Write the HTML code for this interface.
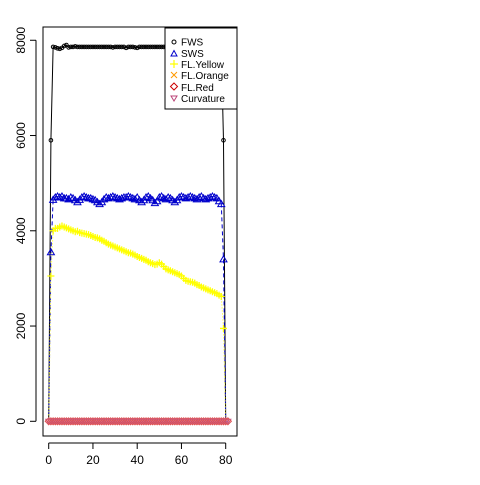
<!DOCTYPE html>
<html><head><meta charset="utf-8"><style>
body{margin:0;background:#fff}
svg text{font-family:"Liberation Sans",Arial,sans-serif}
</style></head><body>
<svg id="chart" width="480" height="480" xmlns="http://www.w3.org/2000/svg">
<rect width="480" height="480" fill="#fff"/>
<g id="marks"></g>
<rect x="43" y="27" width="194" height="409" fill="none" stroke="#000" stroke-width="1"/>
<g id="axes"></g>
<g>
<rect x="165" y="28" width="72" height="81" fill="#fff" stroke="#000"/>
<circle cx="174" cy="42" r="2" fill="none" stroke="#000"/>
<text x="181" y="45.5" font-size="10">FWS</text>
<path d="M171,56 L174,50.5 L177,56 Z" fill="none" stroke="#00c"/>
<text x="181" y="57" font-size="10">SWS</text>
<path d="M170,64 H178 M174,60 V68" stroke="#ff0" stroke-width="1.2"/>
<text x="181" y="68" font-size="10">FL.Yellow</text>
<path d="M171,72 L177,78 M177,72 L171,78" stroke="#f90"/>
<text x="181" y="79" font-size="10">FL.Orange</text>
<path d="M174,83 L177.5,86.5 L174,90 L170.5,86.5 Z" fill="none" stroke="#c00"/>
<text x="181" y="91" font-size="10">FL.Red</text>
<path d="M171,96 L177,96 L174,101 Z" fill="none" stroke="#b47"/>
<text x="181" y="102" font-size="10">Curvature</text>
</g>
</svg>
<script>
const xs = [];
for (let i = 0; i <= 81; i++) xs.push(i);
const fws = [0,5900,7860,7850,7830,7820,7840,7880,7900,7850,7860,7860,7870,7860,7860,7860,7860,7860,7860,7860,7860,7860,7860,7860,7860,7860,7860,7860,7860,7850,7860,7860,7860,7860,7860,7840,7860,7860,7860,7850,7840,7860,7860,7860,7860,7860,7860,7860,7860,7860,7860,7860,7860,7860,7860,7860,7860,7860,7860,7860,7860,7860,7860,7860,7860,7860,7860,7860,7860,7860,7860,7860,7860,7860,7860,7860,7860,7860,7860,5900,0,0];
const sws = [0,3550,4650,4700,4720,4700,4720,4680,4680,4660,4700,4680,4640,4600,4650,4700,4720,4700,4680,4680,4660,4640,4600,4560,4600,4660,4700,4680,4700,4720,4700,4680,4660,4680,4700,4700,4720,4700,4680,4660,4700,4640,4600,4640,4700,4720,4680,4640,4580,4620,4700,4720,4680,4660,4700,4680,4640,4600,4640,4700,4720,4700,4680,4700,4720,4700,4680,4660,4700,4720,4680,4660,4680,4700,4720,4700,4680,4620,4560,3400,0,0];
const yellow = [0,3050,4000,4050,4050,4080,4100,4080,4060,4040,4020,4000,3980,3990,3960,3950,3940,3930,3920,3900,3880,3860,3850,3830,3800,3780,3750,3720,3700,3680,3660,3640,3620,3600,3580,3560,3540,3530,3510,3490,3460,3440,3420,3400,3380,3350,3330,3310,3290,3300,3330,3300,3250,3200,3180,3160,3140,3120,3100,3080,3050,3000,2960,2940,2930,2920,2900,2870,2850,2820,2800,2780,2760,2740,2720,2700,2680,2650,2620,1950,0,0];
const zeros = xs.map(() => 0);
const yTicks = [0,2000,4000,6000,8000];
const xTicks = [0,20,40,60,80];
const X = v => 48.7 + v * 2.2125;
const Y = v => 421.3 - v * 0.04763;
const NS = "http://www.w3.org/2000/svg";
const marks = document.getElementById('marks');
const axes = document.getElementById('axes');
function mk(tag, attrs, parent) { const e = document.createElementNS(NS, tag); for (const k in attrs) e.setAttribute(k, attrs[k]); parent.appendChild(e); return e; }
function line(vals, color, dash, name) {
  const p = mk('polyline', {points: xs.map((x,i)=>X(x)+','+Y(vals[i])).join(' '), fill:'none', stroke:color, 'stroke-width':1, 'stroke-dasharray':dash}, marks);
  
  
}
line(fws, '#000', 'none', 'fws-line');
line(sws, '#00c', '4,3', 'sws-line');
line(yellow, '#ff0', '1,2', 'fl-yellow-line');
xs.forEach((x, i) => {
  if (fws[i] === 0) return;
  const p = mk('circle', {cx:X(x), cy:Y(fws[i]), r:1.8, fill:'none', stroke:'#000'}, marks);
  
  
});
xs.forEach((x, i) => {
  if (sws[i] === 0) return;
  const cx = X(x), cy = Y(sws[i]);
  const p = mk('path', {d:`M${cx-3.5},${cy+2.5} L${cx},${cy-3.5} L${cx+3.5},${cy+2.5} Z`, fill:'none', stroke:'#00c'}, marks);
  
  
});
xs.forEach((x, i) => {
  if (yellow[i] === 0) return;
  const cx = X(x), cy = Y(yellow[i]);
  const p = mk('path', {d:`M${cx-3.5},${cy} H${cx+3.5} M${cx},${cy-3.5} V${cy+3.5}`, stroke:'#ff0', 'stroke-width':1.3}, marks);
  
  
});
xs.forEach((x, i) => {
  const cx = X(x), cy = Y(zeros[i]);
  const c = mk('path', {d:`M${cx-3},${cy-2} L${cx+3},${cy-2} L${cx},${cy+3} Z`, fill:'none', stroke:'#c06090'}, marks);
  
  
  const r = mk('path', {d:`M${cx},${cy-3.5} L${cx+3.5},${cy} L${cx},${cy+3.5} L${cx-3.5},${cy} Z`, fill:'none', stroke:'#e05050'}, marks);
  
  
});
mk('line', {x1:36, x2:36, y1:Y(0), y2:Y(8000), stroke:'#000'}, axes);
yTicks.forEach(v => {
  mk('line', {x1:36, x2:30, y1:Y(v), y2:Y(v), stroke:'#000'}, axes);
  const t = mk('text', {x:25, y:Y(v), 'font-size':12, 'text-anchor':'middle', transform:`rotate(-90 25 ${Y(v)})`}, axes);
  t.textContent = v;
  
  
});
mk('line', {x1:X(0), x2:X(80), y1:443, y2:443, stroke:'#000'}, axes);
xTicks.forEach(v => {
  mk('line', {x1:X(v), x2:X(v), y1:443, y2:449, stroke:'#000'}, axes);
  const t = mk('text', {x:X(v), y:464, 'font-size':12, 'text-anchor':'middle'}, axes);
  t.textContent = v;
  
  
});
</script>
</body></html>
